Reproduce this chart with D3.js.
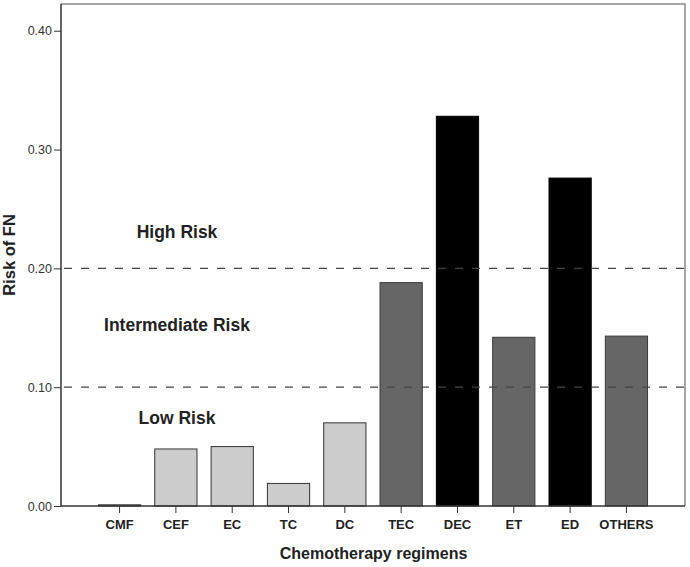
<!DOCTYPE html>
<html><head><meta charset="utf-8">
<script src="https://cdn.jsdelivr.net/npm/d3@7"></script>
<style>html,body{margin:0;padding:0;background:#fff;} svg{display:block;font-family:"Liberation Sans",Arial,sans-serif;}</style>
</head><body><svg id="c" width="690" height="567"></svg>
<script>
const categories = ["CMF","CEF","EC","TC","DC","TEC","DEC","ET","ED","OTHERS"];
const risks = [0.001,0.048,0.050,0.019,0.070,0.188,0.328,0.142,0.276,0.143];
const riskGroup = ["low","low","low","low","low","mid","high","mid","high","mid"];
const yTicks = [0,0.1,0.2,0.3,0.4];
const thresholds = [0.1,0.2];
const zoneLabels = ["High Risk","Intermediate Risk","Low Risk"];
const zoneValues = [0.2256,0.1473,0.069];

const svg = d3.select("#c");
const L=61, R=685, T=4, B=506;
const y = d3.scaleLinear().domain([0,0.4225]).range([B,T]);
const x = d3.scaleBand().domain(categories).range([L,R]).paddingInner(0.25).paddingOuter(0.665);
const fill = {low:"#cccccc", mid:"#666666", high:"#000000"};
const stroke = {low:"#333333", mid:"#3a3a3a", high:"#000000"};

// frame (top/right)
svg.append("path").attr("d",`M${L},${T}H${R}V${B}`).attr("fill","none").attr("stroke","#888").attr("stroke-width",1.5);

// bars
svg.selectAll("rect.bar").data(categories).join("rect")
  .attr("x",d=>x(d)).attr("width",x.bandwidth())
  .attr("y",(d,i)=>y(risks[i])).attr("height",(d,i)=>B-y(risks[i]))
  .attr("fill",(d,i)=>fill[riskGroup[i]]).attr("stroke",(d,i)=>stroke[riskGroup[i]]).attr("stroke-width",1);

// threshold lines
svg.selectAll("line.th").data(thresholds).join("line")
  .attr("x1",L+3).attr("x2",R).attr("y1",d=>y(d)).attr("y2",d=>y(d))
  .attr("stroke","#444").attr("stroke-width",1.2).attr("stroke-dasharray","8,9");

// zone labels
svg.selectAll("text.zone").data(zoneLabels).join("text")
  .attr("x",177).attr("y",(d,i)=>y(zoneValues[i]))
  .attr("text-anchor","middle").attr("font-size",17.5).attr("font-weight","bold").attr("fill","#222").text(d=>d);

// y axis
const ya = svg.append("g").attr("transform",`translate(${L},0)`)
  .call(d3.axisLeft(y).tickValues(yTicks).tickFormat(d3.format(".2f")).tickSize(7).tickPadding(2));
ya.select(".domain").attr("stroke","#333").attr("stroke-width",1.5).attr("d",`M0,${T}V${B}`);
ya.selectAll(".tick line").attr("stroke","#333");
ya.selectAll(".tick text").attr("font-size",12.5).attr("fill","#333").attr("font-family","Liberation Sans, Arial, sans-serif");

// x axis
const xa = svg.append("g").attr("transform",`translate(0,${B})`)
  .call(d3.axisBottom(x).tickSize(7).tickPadding(7));
xa.select(".domain").attr("stroke","#333").attr("stroke-width",1.5).attr("d",`M${L},0H${R}`);
xa.selectAll(".tick line").attr("stroke","#333");
xa.selectAll(".tick text").attr("font-size",13).attr("font-weight","bold").attr("fill","#222").attr("font-family","Liberation Sans, Arial, sans-serif");

// titles
svg.append("text").attr("x",373.5).attr("y",559).attr("text-anchor","middle")
  .attr("font-size",16).attr("font-weight","bold").attr("fill","#222").text("Chemotherapy regimens");
svg.append("text").attr("transform","translate(15,255) rotate(-90)").attr("text-anchor","middle")
  .attr("font-size",16.5).attr("font-weight","bold").attr("fill","#222").text("Risk of FN");
</script></body></html>
